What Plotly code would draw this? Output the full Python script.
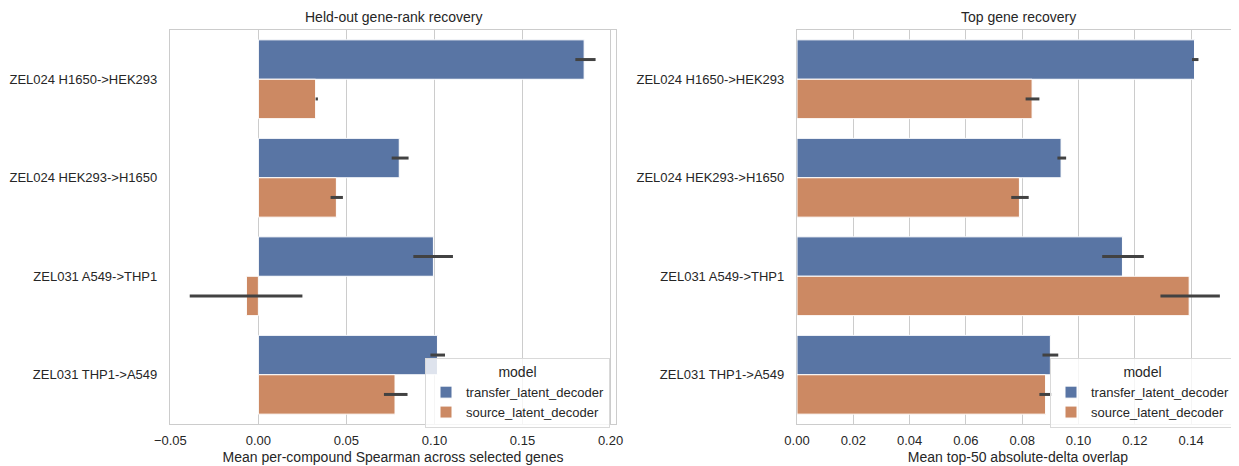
import plotly.graph_objects as go

categories = ["ZEL024 H1650->HEK293", "ZEL024 HEK293->H1650", "ZEL031 A549->THP1", "ZEL031 THP1->A549"]
models = ["transfer_latent_decoder", "source_latent_decoder"]

# Left panel: Mean per-compound Spearman
spear_transfer = [0.185, 0.080, 0.0994, 0.1017]
spear_transfer_lo = [0.180, 0.0757, 0.088, 0.0977]
spear_transfer_hi = [0.1915, 0.0853, 0.1105, 0.106]
spear_source = [0.0325, 0.0443, -0.0068, 0.0776]
spear_source_lo = [0.0325, 0.041, -0.039, 0.0713]
spear_source_hi = [0.0338, 0.048, 0.025, 0.0847]

# Right panel: Mean top-50 absolute-delta overlap
top_transfer = [0.1412, 0.0938, 0.1156, 0.0900]
top_transfer_lo = [0.1403, 0.0925, 0.1084, 0.0872]
top_transfer_hi = [0.1426, 0.0956, 0.1232, 0.0928]
top_source = [0.0835, 0.0790, 0.1393, 0.0883]
top_source_lo = [0.0812, 0.0761, 0.1291, 0.0861]
top_source_hi = [0.0861, 0.0823, 0.1502, 0.0905]

colors = ["#5975a4", "#cc8963"]
FONT = "Liberation Sans, Arial, sans-serif"
TXT = "#262626"

fig = go.Figure()

def add(vals, lo, hi, name, color, xa, ya, legend, show):
    fig.add_trace(go.Bar(
        y=categories, x=vals, orientation="h", name=name,
        marker=dict(color=color, line=dict(color="white", width=1)),
        error_x=dict(type="data", symmetric=False,
                     array=[h - v for h, v in zip(hi, vals)],
                     arrayminus=[v - l for v, l in zip(vals, lo)],
                     color="#424242", thickness=3, width=0),
        xaxis=xa, yaxis=ya, legend=legend, showlegend=show,
        offsetgroup=name,
    ))

add(spear_transfer, spear_transfer_lo, spear_transfer_hi, models[0], colors[0], "x", "y", "legend", True)
add(spear_source, spear_source_lo, spear_source_hi, models[1], colors[1], "x", "y", "legend", True)
add(top_transfer, top_transfer_lo, top_transfer_hi, models[0], colors[0], "x2", "y2", "legend2", True)
add(top_source, top_source_lo, top_source_hi, models[1], colors[1], "x2", "y2", "legend2", True)

# The page body has an 8px margin: figure coords = page coords - 8
OFF = 8
W, H = 1239 - OFF, 466 - OFF
TOP, BOT = 30 - OFF, 424 - OFF
L1, R1 = 170 - OFF, 616 - OFF
L2 = 797 - OFF

axis_common = dict(showgrid=True, gridcolor="#cccccc", gridwidth=1, zeroline=False,
                   showline=True, mirror=True, linecolor="#cccccc", linewidth=1.25,
                   ticks="outside", ticklen=4, tickcolor="rgba(0,0,0,0)", automargin=False,
                   tickfont=dict(family=FONT, size=13, color=TXT),
                   title_font=dict(family=FONT, size=14, color=TXT), tickformat=".2f")
yaxis_common = dict(showgrid=False, zeroline=False, showline=True, mirror=True,
                    linecolor="#cccccc", linewidth=1.25, range=[3.5, -0.5], automargin=False,
                    tickfont=dict(family=FONT, size=13, color=TXT),
                    ticks="", ticklabelstandoff=9)

legend_common = dict(bgcolor="rgba(255,255,255,0.8)", bordercolor="#d9d9d9", borderwidth=1,
                     font=dict(family=FONT, size=13, color=TXT),
                     title=dict(text="model", side="top center", font=dict(family=FONT, size=14, color=TXT)),
                     xanchor="right", yanchor="top", tracegroupgap=0, itemwidth=30)

leg_y = (BOT - (358 - OFF)) / (BOT - TOP)

fig.update_layout(
    width=W, height=H,
    margin=dict(l=0, r=0, t=TOP, b=H - BOT, autoexpand=False),
    plot_bgcolor="white", paper_bgcolor="white",
    barmode="group", bargap=0.2, bargroupgap=0,
    font=dict(family=FONT, size=13, color=TXT),
    xaxis=dict(domain=[L1 / W, R1 / W], range=[-0.0502, 0.2031], dtick=0.05, tick0=0,
               title=dict(text="Mean per-compound Spearman across selected genes", standoff=5),
               anchor="y", **axis_common),
    yaxis=dict(domain=[0, 1], anchor="x", **yaxis_common),
    xaxis2=dict(domain=[L2 / W, 1.0], range=[0, 0.157], dtick=0.02, tick0=0,
                title=dict(text="Mean top-50 absolute-delta overlap", standoff=5),
                anchor="y2", **axis_common),
    yaxis2=dict(domain=[0, 1], anchor="x2", **yaxis_common),
    legend=dict(x=(610 - OFF) / W, y=leg_y, **legend_common),
    legend2=dict(x=(1235 - OFF) / W, y=leg_y, **legend_common),
    annotations=[
        dict(text="Held-out gene-rank recovery", x=(L1 + R1) / 2 / W, y=1, xref="paper", yref="paper",
             xanchor="center", yanchor="bottom", yshift=3, showarrow=False,
             font=dict(family=FONT, size=14, color=TXT)),
        dict(text="Top gene recovery", x=(L2 + 1240 - OFF) / 2 / W, y=1, xref="paper", yref="paper",
             xanchor="center", yanchor="bottom", yshift=3, showarrow=False,
             font=dict(family=FONT, size=14, color=TXT)),
    ],
)

fig.write_html("out.html")
